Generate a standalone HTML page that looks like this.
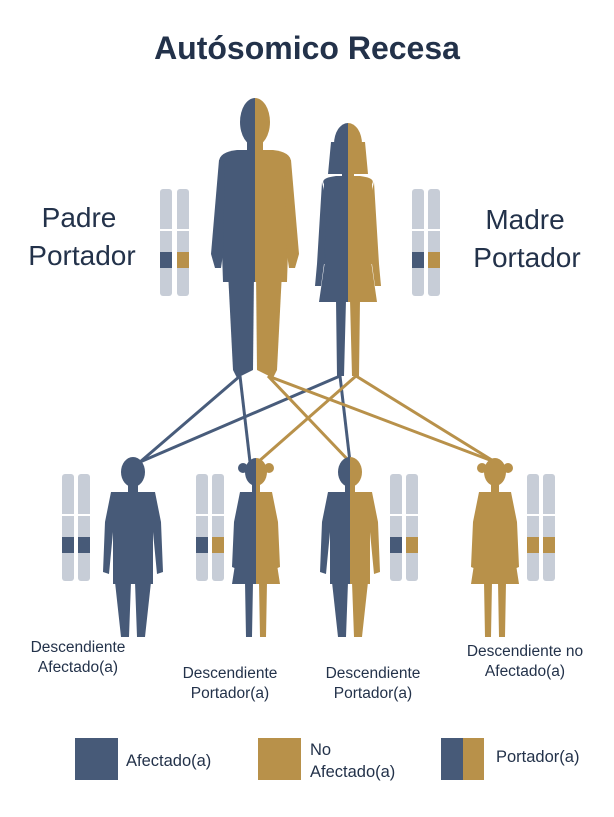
<!DOCTYPE html>
<html><head><meta charset="utf-8"><style>
body{margin:0;background:#fff}
svg{display:block}
text{font-family:"Liberation Sans",sans-serif;fill:#23324a}
</style></head><body>
<svg width="614" height="817" viewBox="0 0 614 817" xmlns="http://www.w3.org/2000/svg">
<defs>
<g id="man">
 <ellipse cx="0" cy="0" rx="15" ry="24"/>
 <rect x="-8" y="16" width="16" height="18"/>
 <path d="M-36 40 Q-36 30 -18 28 L18 28 Q36 30 36 40 L32 160 L-32 160 Z"/>
 <path d="M-36 38 L-30 40 L-32 132 L-34 146 L-40 146 L-44 132 Z"/>
 <path d="M36 38 L30 40 L32 132 L34 146 L40 146 L44 132 Z"/>
 <path d="M-27 150 L-1 150 L-2 248 L-18 256 L-22 248 Z"/>
 <path d="M27 150 L1 150 L2 248 L18 256 L22 248 Z"/>
</g>
<g id="woman">
 <ellipse cx="0" cy="0" rx="14" ry="21"/>
 <path d="M-17 -2 L-20 30 L20 30 L17 -2 Z"/>
 <rect x="-6" y="20" width="12" height="16"/>
 <path d="M-24 40 Q-28 34 -12 32 L12 32 Q28 34 24 40 L28 120 L-28 120 Z"/>
 <path d="M-26 38 L-31 120 L-33 142 L-27 142 L-24 120 L-21 60 Z"/>
 <path d="M26 38 L31 120 L33 142 L27 142 L24 120 L21 60 Z"/>
 <path d="M-22 110 L22 110 L29 158 L-29 158 Z"/>
 <path d="M-12 156 L-2 156 L-4 232 L-11 232 Z M2 156 L12 156 L11 232 L4 232 Z"/>
</g>
<g id="boy">
 <ellipse cx="0" cy="0" rx="12" ry="15"/>
 <rect x="-5" y="10" width="10" height="10"/>
 <path d="M-22 20 L22 20 L28 50 L30 100 L24 102 L20 60 L20 112 L-20 112 L-20 60 L-24 102 L-30 100 L-28 50 Z"/>
 <path d="M-18 110 L-2 110 L-4 165 L-12 165 Z M2 110 L18 110 L12 165 L4 165 Z"/>
</g>
<g id="girl">
 <ellipse cx="0" cy="0" rx="11" ry="14"/>
 <circle cx="-13" cy="-4" r="5"/><circle cx="13" cy="-4" r="5"/>
 <rect x="-4" y="10" width="8" height="10"/>
 <path d="M-16 20 L16 20 L22 50 L24 95 L19 97 L16 60 L24 112 L-24 112 L-16 60 L-19 97 L-24 95 L-22 50 Z"/>
 <path d="M-11 110 L-3 110 L-4 165 L-10 165 Z M3 110 L11 110 L10 165 L4 165 Z"/>
</g>
</defs>

<text x="307" y="59" font-size="32" font-weight="bold" text-anchor="middle" fill="#1b2c47">Autósomico Recesa</text>
<text x="79" y="227" font-size="28" text-anchor="middle">Padre</text>
<text x="82" y="265" font-size="28" text-anchor="middle">Portador</text>
<text x="525" y="229" font-size="28" text-anchor="middle">Madre</text>
<text x="527" y="267" font-size="28" text-anchor="middle">Portador</text>

<g stroke-width="3" fill="none">
 <line x1="240" y1="376" x2="140" y2="462" stroke="#485c7b"/>
 <line x1="240" y1="376" x2="250" y2="462" stroke="#485c7b"/>
 <line x1="340" y1="376" x2="140" y2="462" stroke="#485c7b"/>
 <line x1="340" y1="376" x2="350" y2="462" stroke="#485c7b"/>
 <line x1="268" y1="376" x2="350" y2="462" stroke="#b8914a"/>
 <line x1="268" y1="376" x2="495" y2="462" stroke="#b8914a"/>
 <line x1="356" y1="376" x2="258" y2="462" stroke="#b8914a"/>
 <line x1="356" y1="376" x2="495" y2="462" stroke="#b8914a"/>
</g>

<clipPath id="L"><rect x="-100" y="-100" width="100" height="500"/></clipPath>
<clipPath id="R"><rect x="0" y="-100" width="100" height="500"/></clipPath>

<g transform="translate(255,122)">
 <g fill="#475a78" clip-path="url(#L)"><use href="#man"/></g>
 <g fill="#b8914a" clip-path="url(#R)"><use href="#man"/></g>
</g>
<g transform="translate(348,144)">
 <g fill="#475a78" clip-path="url(#L)"><use href="#woman"/></g>
 <g fill="#b8914a" clip-path="url(#R)"><use href="#woman"/></g>
</g>
<g transform="translate(133,472)" fill="#475a78"><use href="#boy"/></g>
<g transform="translate(256,472)">
 <g fill="#475a78" clip-path="url(#L)"><use href="#girl"/></g>
 <g fill="#b8914a" clip-path="url(#R)"><use href="#girl"/></g>
</g>
<g transform="translate(350,472)">
 <g fill="#475a78" clip-path="url(#L)"><use href="#boy"/></g>
 <g fill="#b8914a" clip-path="url(#R)"><use href="#boy"/></g>
</g>
<g transform="translate(495,472)" fill="#b8914a"><use href="#girl"/></g>

<g fill="#c7cdd7">
 <rect x="160" y="189" width="12" height="107" rx="3"/><rect x="177" y="189" width="12" height="107" rx="3"/>
 <rect x="412" y="189" width="12" height="107" rx="3"/><rect x="428" y="189" width="12" height="107" rx="3"/>
 <rect x="62" y="474" width="12" height="107" rx="3"/><rect x="78" y="474" width="12" height="107" rx="3"/>
 <rect x="196" y="474" width="12" height="107" rx="3"/><rect x="212" y="474" width="12" height="107" rx="3"/>
 <rect x="390" y="474" width="12" height="107" rx="3"/><rect x="406" y="474" width="12" height="107" rx="3"/>
 <rect x="527" y="474" width="12" height="107" rx="3"/><rect x="543" y="474" width="12" height="107" rx="3"/>
</g>
<g fill="#fff">
 <rect x="158" y="229" width="34" height="2"/><rect x="410" y="229" width="34" height="2"/>
 <rect x="60" y="514" width="34" height="2"/><rect x="194" y="514" width="34" height="2"/>
 <rect x="388" y="514" width="34" height="2"/><rect x="525" y="514" width="34" height="2"/>
</g>
<rect x="160" y="252" width="12" height="16" fill="#475a78"/><rect x="177" y="252" width="12" height="16" fill="#b8914a"/>
<rect x="412" y="252" width="12" height="16" fill="#475a78"/><rect x="428" y="252" width="12" height="16" fill="#b8914a"/>
<rect x="62" y="537" width="12" height="16" fill="#475a78"/><rect x="78" y="537" width="12" height="16" fill="#475a78"/>
<rect x="196" y="537" width="12" height="16" fill="#475a78"/><rect x="212" y="537" width="12" height="16" fill="#b8914a"/>
<rect x="390" y="537" width="12" height="16" fill="#475a78"/><rect x="406" y="537" width="12" height="16" fill="#b8914a"/>
<rect x="527" y="537" width="12" height="16" fill="#b8914a"/><rect x="543" y="537" width="12" height="16" fill="#b8914a"/>

<g font-size="15.5" text-anchor="middle">
 <text x="78" y="652">Descendiente</text><text x="78" y="672">Afectado(a)</text>
 <text x="230" y="678">Descendiente</text><text x="230" y="698">Portador(a)</text>
 <text x="373" y="678">Descendiente</text><text x="373" y="698">Portador(a)</text>
 <text x="525" y="656">Descendiente no</text><text x="525" y="676">Afectado(a)</text>
</g>

<rect x="75" y="738" width="43" height="42" fill="#475a78"/>
<rect x="258" y="738" width="43" height="42" fill="#b8914a"/>
<rect x="441" y="738" width="22" height="42" fill="#475a78"/>
<rect x="463" y="738" width="21" height="42" fill="#b8914a"/>
<g font-size="16.5">
 <text x="126" y="766">Afectado(a)</text>
 <text x="310" y="755">No</text><text x="310" y="777">Afectado(a)</text>
 <text x="496" y="762">Portador(a)</text>
</g>
</svg>
</body></html>
